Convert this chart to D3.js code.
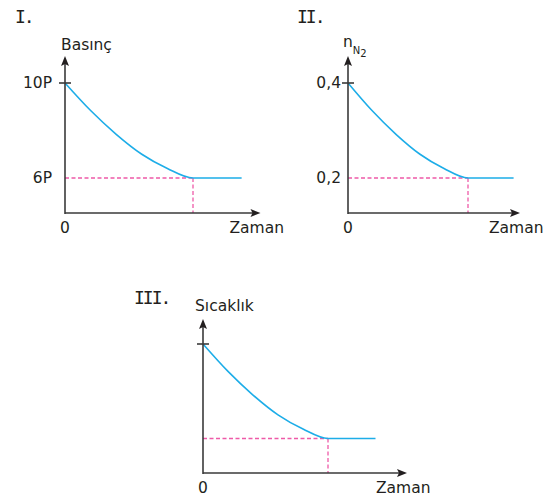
<!DOCTYPE html>
<html>
<head>
<meta charset="utf-8">
<script src="https://cdn.jsdelivr.net/npm/d3@7"></script>
<style>
  html, body { margin: 0; padding: 0; background: #fff; }
  svg { display: block; }
  text { fill: #231f20; }
</style>
</head>
<body>
<svg id="chart" width="552" height="497"></svg>
<script>
// Time points shared by all three plots (equilibrium reached at t = 10)
const times = [0, 2, 4, 6, 8, 10, 13.8];

// I. Basınç (pressure, in P)
const pressure = [10, 8.84, 7.84, 7.0, 6.4, 6, 6];
const pressureTicks = [10, 6];
const pressureTickLabels = ["10P", "6P"];

// II. n(N2) (moles)
const molesN2 = [0.4, 0.342, 0.292, 0.25, 0.22, 0.2, 0.2];
const molesTicks = [0.4, 0.2];
const molesTickLabels = ["0,4", "0,2"];

// III. Sıcaklık (temperature, relative)
const temperature = [1, 0.71, 0.46, 0.25, 0.10, 0, 0];
const temperatureTicks = [1, 0];
const temperatureTickLabels = ["", ""];

const tEq = 10;

// Panel layout (pixels)
const panels = [
  { roman: "I.",   romanX: 15,  romanY: 23,  title: "Basınç",   titleX: 61,  titleY: 50,
    x0: 65,  xEq: 193, xTip: 260.5, yBase: 213, yTop: 56,  yHi: 83,  yLo: 178, labelPad: 13,
    values: pressure, ticks: pressureTicks, tickLabels: pressureTickLabels },
  { roman: "II.",  romanX: 297, romanY: 23,  title: null,       titleX: 343, titleY: 47,
    x0: 348, xEq: 468, xTip: 520,   yBase: 213, yTop: 56,  yHi: 83,  yLo: 178, labelPad: 7,
    values: molesN2, ticks: molesTicks, tickLabels: molesTickLabels },
  { roman: "III.", romanX: 134, romanY: 304, title: "Sıcaklık", titleX: 195, titleY: 311,
    x0: 203, xEq: 328, xTip: 407,   yBase: 473, yTop: 319, yHi: 344, yLo: 438.5, labelPad: 13,
    values: temperature, ticks: temperatureTicks, tickLabels: temperatureTickLabels }
];

const svg = d3.select("#chart");
const AXIS = "#3a3a3a", CURVE = "#1dade8", DASH = "#ee5aa8";
const FONT = "'DejaVu Sans', sans-serif";

panels.forEach(p => {
  const g = svg.append("g");
  const x = d3.scaleLinear().domain([0, tEq]).range([p.x0, p.xEq]);
  const y = d3.scaleLinear().domain([p.ticks[1], p.ticks[0]]).range([p.yLo, p.yHi]);
  const lo = p.ticks[1], hi = p.ticks[0];

  // Dashed guide lines at the equilibrium level / time
  g.append("line")
    .attr("x1", x(0)).attr("x2", x(tEq))
    .attr("y1", y(lo)).attr("y2", y(lo))
    .attr("stroke", DASH).attr("stroke-width", 1.3).attr("stroke-dasharray", "4,2.5");
  g.append("line")
    .attr("x1", x(tEq)).attr("x2", x(tEq))
    .attr("y1", y(lo)).attr("y2", p.yBase)
    .attr("stroke", DASH).attr("stroke-width", 1.3).attr("stroke-dasharray", "4,2.5");

  // Curve
  const line = d3.line()
    .x((d, i) => x(times[i]))
    .y(d => y(d))
    .curve(d3.curveMonotoneX);
  g.append("path")
    .datum(p.values)
    .attr("d", line)
    .attr("fill", "none")
    .attr("stroke", CURVE)
    .attr("stroke-width", 1.6);

  // Axes with arrowheads
  g.append("line")
    .attr("x1", p.x0).attr("x2", p.x0)
    .attr("y1", p.yBase + 1).attr("y2", p.yTop + 6)
    .attr("stroke", AXIS).attr("stroke-width", 1.6);
  g.append("line")
    .attr("x1", p.x0).attr("x2", p.xTip - 6)
    .attr("y1", p.yBase).attr("y2", p.yBase)
    .attr("stroke", AXIS).attr("stroke-width", 1.6);
  g.append("path")
    .attr("d", `M${p.x0},${p.yTop} L${p.x0 + 4},${p.yTop + 10} L${p.x0},${p.yTop + 8} L${p.x0 - 4},${p.yTop + 10} Z`)
    .attr("fill", "#231f20");
  g.append("path")
    .attr("d", `M${p.xTip},${p.yBase} L${p.xTip - 10},${p.yBase - 4} L${p.xTip - 8},${p.yBase} L${p.xTip - 10},${p.yBase + 4} Z`)
    .attr("fill", "#231f20");

  // Tick at the starting value
  g.append("line")
    .attr("x1", p.x0 - 6).attr("x2", p.x0 + 6)
    .attr("y1", y(hi)).attr("y2", y(hi))
    .attr("stroke", AXIS).attr("stroke-width", 1.6);

  // Tick labels on the vertical axis
  const yAxis = d3.axisLeft(y)
    .tickValues(p.ticks)
    .tickFormat((d, i) => p.tickLabels[i])
    .tickSize(0)
    .tickPadding(p.labelPad);
  const ya = g.append("g")
    .attr("transform", `translate(${p.x0},0)`)
    .call(yAxis);
  ya.select(".domain").remove();
  ya.selectAll("text")
    .attr("font-family", FONT).attr("font-size", 15.5).attr("fill", "#231f20");

  // Origin and time label
  g.append("text").text("0")
    .attr("x", p.x0).attr("y", p.yBase + 20)
    .attr("text-anchor", "middle")
    .attr("font-family", FONT).attr("font-size", 15.5);
  g.append("text").text("Zaman")
    .attr("x", p.xTip - 31).attr("y", p.yBase + 20)
    .attr("font-family", FONT).attr("font-size", 15.5);

  // Vertical axis title
  if (p.title) {
    g.append("text").text(p.title)
      .attr("x", p.titleX).attr("y", p.titleY)
      .attr("font-family", FONT).attr("font-size", 15.5);
  } else {
    const t = g.append("text")
      .attr("x", p.titleX).attr("y", p.titleY)
      .attr("font-family", FONT).attr("font-size", 15.5);
    t.append("tspan").text("n");
    t.append("tspan").text("N").attr("font-size", 10).attr("dy", 7);
    t.append("tspan").text("2").attr("font-size", 10).attr("dy", 3);
  }

  // Roman numeral
  g.append("text").text(p.roman)
    .attr("x", p.romanX).attr("y", p.romanY)
    .attr("font-family", "'DejaVu Sans Mono', monospace")
    .attr("font-size", 18)
    .attr("letter-spacing", -2);
});
</script>
</body>
</html>
